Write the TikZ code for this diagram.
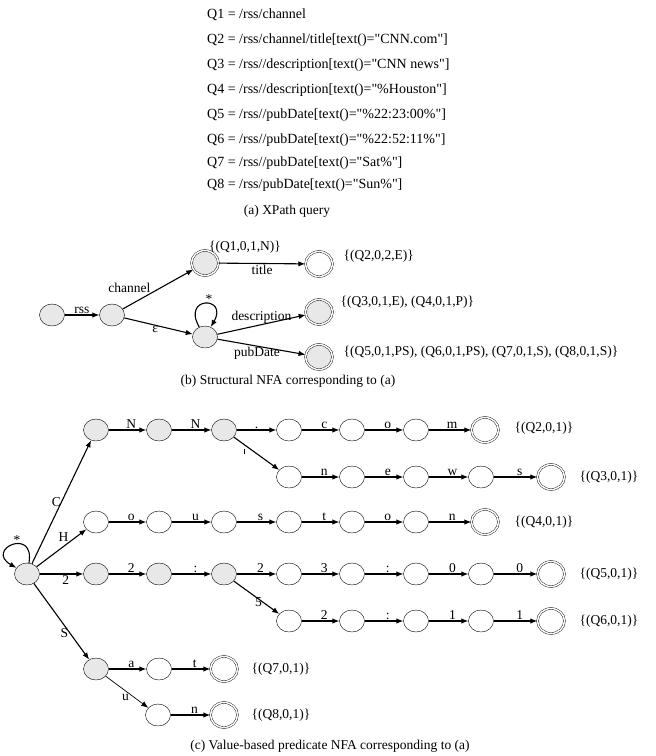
\documentclass[tikz,border=0pt]{standalone}
\usepackage{fontspec}
\setmainfont{Liberation Serif}[Ligatures=TeXOff]
\usetikzlibrary{shapes.geometric,arrows.meta}

\begin{document}
\begin{tikzpicture}[x=1pt,y=-1pt,
	font=\fontsize{13.5}{16}\selectfont,
	st/.style={ellipse,draw,minimum width=25pt,minimum height=22pt,inner sep=0pt},
	gr/.style={st,fill=gray!18},
	acc/.style={st,double,double distance=1.5pt,minimum width=27pt,minimum height=25pt},
	q/.style={anchor=west,text height=10pt,text depth=3pt,inner sep=0pt,font=\fontsize{14}{16}\selectfont},
	lb/.style={inner sep=1pt},
	tr/.style={-{Latex[length=7pt,width=5.5pt]},draw,line width=1.1pt}]
	\useasboundingbox (0,0) rectangle (656,756);

	% (a) queries
	\node[q] (q1) at (207,15) {Q1 = /rss/channel};
	\node[q] (q2) at (207,40) {Q2 = /rss/channel/title[text()="CNN.com"]};
	\node[q] (q3) at (207,65) {Q3 = /rss//description[text()="CNN news"]};
	\node[q] (q4) at (207,90) {Q4 = /rss//description[text()="\%Houston"]};
	\node[q] (q5) at (207,115) {Q5 = /rss//pubDate[text()="\%22:23:00\%"]};
	\node[q] (q6) at (207,140) {Q6 = /rss//pubDate[text()="\%22:52:11\%"]};
	\node[q] (q7) at (207,163) {Q7 = /rss//pubDate[text()="Sat\%"]};
	\node[q] (q8) at (207,185) {Q8 = /rss/pubDate[text()="Sun\%"]};
	\node (capa) at (287,211) {(a) XPath query};

	% (b) structural NFA
	\node[gr] (s0) at (52,315) {};
	\node[gr] (s1) at (112,315) {};
	\node[gr,acc] (s2) at (205,263) {};
	\node[acc] (s3) at (319,264) {};
	\node[gr] (s4) at (205,337) {};
	\node[gr,acc] (s5) at (319,312) {};
	\node[gr,acc] (s6) at (319,357) {};

	\path[tr] (s0) -- node[midway,above,lb] {rss} (s1);
	\path[tr] (s1) -- node[pos=0.4,above left,inner sep=0pt] {channel} (s2);
	\path[tr] (s1) -- node[midway,below left,inner sep=0pt] {ε} (s4);
	\path[tr] (s4) edge[out=120,in=60,looseness=8] node[above right,inner sep=0pt] {*} (s4);
	\path[tr] (s2) -- node[midway,below,lb] {title} (s3);
	\path[tr] (s4) -- node[pos=0.5,above,lb] {description} (s5);
	\path[tr] (s4) -- node[pos=0.45,below,inner sep=0pt] {pubDate} (s6);

	\node (o1) at (245,247) {\{(Q1,0,1,N)\}};
	\node[anchor=west] (o2) at (340,256) {\{(Q2,0,2,E)\}};
	\node[anchor=west] (o3) at (337,302) {\{(Q3,0,1,E), (Q4,0,1,P)\}};
	\node[anchor=west] (o4) at (340,352) {\{(Q5,0,1,PS), (Q6,0,1,PS), (Q7,0,1,S), (Q8,0,1,S)\}};
	\node (capb) at (288,381) {(b) Structural NFA corresponding to (a)};

	% (c) value-based predicate NFA
	\node[gr] (r) at (27,574) {};
	\path[tr] (r) edge[out=80,in=150,looseness=7] node[above right,inner sep=0pt] {*} (r);

	% CNN.com
	\node[gr] (a1) at (96,430) {};
	\node[gr] (a2) at (159,430) {};
	\node[gr] (a3) at (224,430) {};
	\node[st] (a4) at (289,430) {};
	\node[st] (a5) at (352,430) {};
	\node[st] (a6) at (416,430) {};
	\node[acc] (a7) at (485,430) {};
	\path[tr] (r) -- node[pos=0.5,left,inner sep=0pt] {C} (a1);
	\path[tr] (a1) -- node[pos=0.6,above,lb] {N} (a2);
	\path[tr] (a2) -- node[pos=0.6,above,lb] {N} (a3);
	\path[tr] (a3) -- node[pos=0.5,above,lb] {.} (a4);
	\path[tr] (a4) -- node[pos=0.6,above,lb] {c} (a5);
	\path[tr] (a5) -- node[pos=0.6,above,lb] {o} (a6);
	\path[tr] (a6) -- node[pos=0.55,above,lb] {m} (a7);
	\node[anchor=west] (oa) at (511,428) {\{(Q2,0,1)\}};

	% CNN news
	\node[st] (b1) at (289,477) {};
	\node[st] (b2) at (352,477) {};
	\node[st] (b3) at (416,477) {};
	\node[st] (b4) at (481,477) {};
	\node[acc] (b5) at (551,477) {};
	\path[tr] (a3) -- node[pos=0.3,below left,inner sep=2pt] {\rule{1.3pt}{5pt}} (b1);
	\path[tr] (b1) -- node[pos=0.6,above,lb] {n} (b2);
	\path[tr] (b2) -- node[pos=0.6,above,lb] {e} (b3);
	\path[tr] (b3) -- node[pos=0.6,above,lb] {w} (b4);
	\path[tr] (b4) -- node[pos=0.6,above,lb] {s} (b5);
	\node[anchor=west] (ob) at (576,477) {\{(Q3,0,1)\}};

	% Houston
	\node[st] (c1) at (96,522) {};
	\node[st] (c2) at (159,522) {};
	\node[st] (c3) at (224,522) {};
	\node[st] (c4) at (289,522) {};
	\node[st] (c5) at (352,522) {};
	\node[st] (c6) at (416,522) {};
	\node[acc] (c7) at (485,522) {};
	\path[tr] (r) -- node[pos=0.65,above left,inner sep=0pt] {H} (c1);
	\path[tr] (c1) -- node[pos=0.6,above,lb] {o} (c2);
	\path[tr] (c2) -- node[pos=0.6,above,lb] {u} (c3);
	\path[tr] (c3) -- node[pos=0.6,above,lb] {s} (c4);
	\path[tr] (c4) -- node[pos=0.6,above,lb] {t} (c5);
	\path[tr] (c5) -- node[pos=0.6,above,lb] {o} (c6);
	\path[tr] (c6) -- node[pos=0.55,above,lb] {n} (c7);
	\node[anchor=west] (oc) at (511,522) {\{(Q4,0,1)\}};

	% 22:23:00
	\node[gr] (d1) at (96,574) {};
	\node[gr] (d2) at (159,574) {};
	\node[gr] (d3) at (224,574) {};
	\node[st] (d4) at (289,574) {};
	\node[st] (d5) at (352,574) {};
	\node[st] (d6) at (416,574) {};
	\node[st] (d7) at (481,574) {};
	\node[acc] (d8) at (551,574) {};
	\path[tr] (r) -- node[pos=0.6,below,lb] {2} (d1);
	\path[tr] (d1) -- node[pos=0.6,above,lb] {2} (d2);
	\path[tr] (d2) -- node[pos=0.6,above,lb] {:} (d3);
	\path[tr] (d3) -- node[pos=0.6,above,lb] {2} (d4);
	\path[tr] (d4) -- node[pos=0.6,above,lb] {3} (d5);
	\path[tr] (d5) -- node[pos=0.6,above,lb] {:} (d6);
	\path[tr] (d6) -- node[pos=0.6,above,lb] {0} (d7);
	\path[tr] (d7) -- node[pos=0.6,above,lb] {0} (d8);
	\node[anchor=west] (od) at (576,574) {\{(Q5,0,1)\}};

	% 22:52:11
	\node[st] (e1) at (289,621) {};
	\node[st] (e2) at (352,621) {};
	\node[st] (e3) at (416,621) {};
	\node[st] (e4) at (481,621) {};
	\node[acc] (e5) at (551,621) {};
	\path[tr] (d3) -- node[pos=0.65,left,lb] {5} (e1);
	\path[tr] (e1) -- node[pos=0.6,above,lb] {2} (e2);
	\path[tr] (e2) -- node[pos=0.6,above,lb] {:} (e3);
	\path[tr] (e3) -- node[pos=0.6,above,lb] {1} (e4);
	\path[tr] (e4) -- node[pos=0.6,above,lb] {1} (e5);
	\node[anchor=west] (oe) at (576,621) {\{(Q6,0,1)\}};

	% Sat / Sun
	\node[gr] (f1) at (96,669) {};
	\node[st] (f2) at (159,669) {};
	\node[acc] (f3) at (224,669) {};
	\node[st] (g1) at (158,715) {};
	\node[acc] (g2) at (224,715) {};
	\path[tr] (r) -- node[pos=0.65,left,lb] {S} (f1);
	\path[tr] (f1) -- node[pos=0.6,above,lb] {a} (f2);
	\path[tr] (f2) -- node[pos=0.6,above,lb] {t} (f3);
	\path[tr,line width=0.7pt] (f1) -- node[pos=0.55,below left,inner sep=0pt] {u} (g1);
	\path[tr] (g1) -- node[pos=0.6,above,lb] {n} (g2);
	\node[anchor=west] (of) at (248,669) {\{(Q7,0,1)\}};
	\node[anchor=west] (og) at (248,715) {\{(Q8,0,1)\}};

	\node (capc) at (330,746) {(c) Value-based predicate NFA corresponding to (a)};
\end{tikzpicture}
\end{document}
